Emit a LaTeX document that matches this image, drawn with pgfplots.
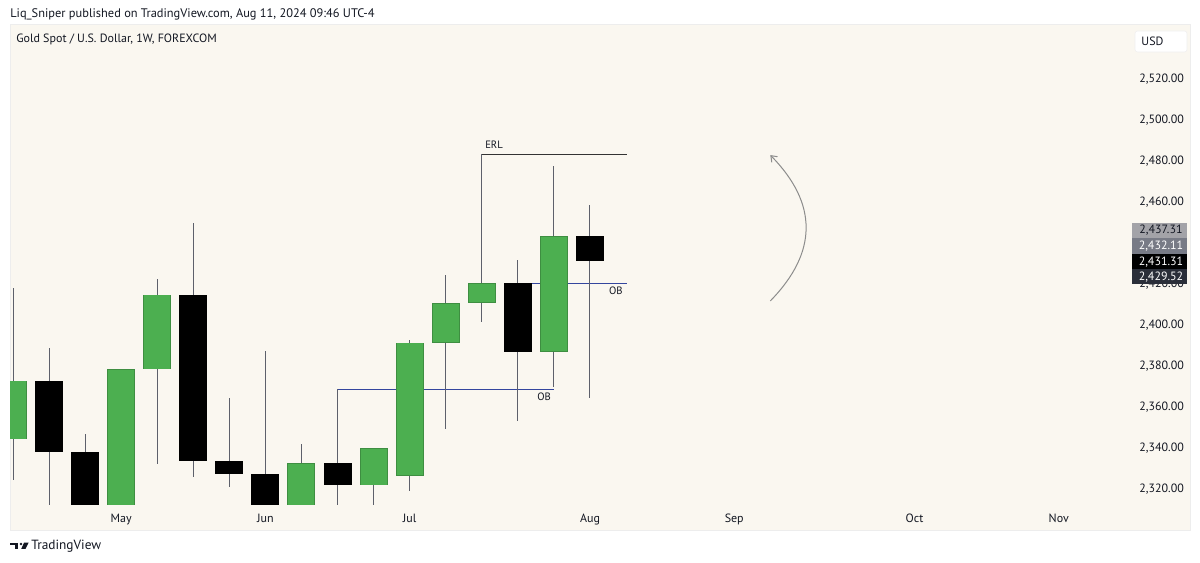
\documentclass[border=0pt]{standalone}
\usepackage{fontspec}
\setmainfont{PT Sans}
\usepackage{pgfplots}
\usepackage{pgfplotstable}
\pgfplotsset{compat=1.18}
\usetikzlibrary{arrows.meta}

\definecolor{pane}{HTML}{FAF7F0}
\definecolor{tvgreen}{HTML}{4CAF50}
\definecolor{tvgreenedge}{HTML}{3E8E41}
\definecolor{wick}{HTML}{5D606B}
\definecolor{obblue}{HTML}{34469E}
\definecolor{txt}{HTML}{131722}
\definecolor{lbl1}{HTML}{A3A3A8}
\definecolor{lbl2}{HTML}{787B86}
\definecolor{lbl4}{HTML}{2A2E39}
\newcommand\tvf{\fontsize{9}{11}\selectfont}

% weekly candles, x = bar index (Apr 15 week = 1)
\pgfplotstableread{
x  o      h      l      c
1  2344.3 2418.0 2324.4 2372.9
4  2300.0 2378.4 2280.0 2378.4
5  2378.4 2422.7 2332.4 2414.9
9  2300.0 2341.8 2287.0 2332.8
11 2321.8 2339.9 2305.0 2339.9
12 2326.5 2392.7 2318.9 2391.4
13 2391.4 2424.3 2349.4 2410.9
14 2410.9 2483.4 2401.4 2420.4
16 2387.0 2477.7 2369.6 2443.5
}\upbars

\pgfplotstableread{
x  o      h      l      c
2  2372.9 2388.7 2291.0 2338.1
3  2338.2 2346.7 2277.0 2301.0
6  2414.9 2450.0 2325.7 2333.8
7  2333.8 2364.3 2320.8 2327.3
8  2327.5 2387.5 2286.0 2293.0
10 2332.8 2368.8 2295.0 2321.8
15 2420.4 2431.8 2353.3 2387.0
17 2443.5 2458.8 2364.6 2431.3
}\downbars

\begin{document}
\begin{tikzpicture}
\useasboundingbox (0,0) rectangle (900pt,422.25pt);
\fill[white] (0,0) rectangle (900pt,422.25pt);

% pixel grid of the screenshot: x right, y down
\begin{scope}[x=0.75pt,y=-0.75pt,shift={(0pt,422.25pt)}]
  \filldraw[fill=pane, draw=black!7] (10,24) rectangle (1190,530);
  \node[anchor=west, inner sep=0, text=txt] at (10,14)
    {\fontsize{9.3}{11}\selectfont Liq\_Sniper published on TradingView.com, Aug 11, 2024 09:46 UTC-4};
  \node[anchor=west, inner sep=0, text=txt] at (16,39.5)
    {\tvf Gold Spot / U.S. Dollar, 1W, FOREXCOM};
  \filldraw[fill=white, draw=black!6, rounded corners=2pt] (1135,31) rectangle (1187,52);
  \node[text=txt, inner sep=0] at (1152.5,41.5) {\tvf USD};
\end{scope}

\begin{axis}[
    at={(7.5pt,43.5pt)}, anchor=south west,
    scale only axis, width=825pt, height=360pt,
    xmin=0.9168, xmax=31.42, ymin=2312.2, ymax=2546.5,
    axis line style={draw=none},
    major tick length=0pt,
    xtick={4,8,12,17,21,26,30},
    xticklabels={May,Jun,Jul,Aug,Sep,Oct,Nov},
    ytick={2320,2340,2360,2380,2400,2420,2460,2480,2500,2520},
    yticklabel pos=right,
    scaled y ticks=false,
    tick label style={font=\tvf, text=txt},
    yticklabel style={anchor=west, xshift=18.5pt,
      /pgf/number format/.cd, fixed, fixed zerofill, precision=2,
      1000 sep={,}, assume math mode=true},
    xticklabel style={yshift=-3.5pt},
]
% OB and ERL levels
\addplot[obblue, line width=0.75pt] coordinates {(10,2368.8) (16,2368.8)};
\addplot[obblue, line width=0.75pt] coordinates {(15,2420.4) (18.02,2420.4)};
\addplot[black!80, line width=0.75pt] coordinates {(14,2483.4) (18.02,2483.4)};

% wicks
\addplot[draw=none, forget plot, error bars/.cd, y dir=both, y explicit, error mark=none,
  error bar style={draw=wick, line width=0.75pt}]
  table[x=x, y expr={(\thisrow{h}+\thisrow{l})/2}, y error expr={(\thisrow{h}-\thisrow{l})/2}] {\upbars};
\addplot[draw=none, forget plot, error bars/.cd, y dir=both, y explicit, error mark=none,
  error bar style={draw=wick, line width=0.75pt}]
  table[x=x, y expr={(\thisrow{h}+\thisrow{l})/2}, y error expr={(\thisrow{h}-\thisrow{l})/2}] {\downbars};

% bodies
\addplot[draw=none, forget plot, error bars/.cd, y dir=both, y explicit, error mark=none,
  error bar style={draw=tvgreenedge, line width=21pt}]
  table[x=x, y expr={(\thisrow{o}+\thisrow{c})/2}, y error expr={abs(\thisrow{c}-\thisrow{o})/2}] {\upbars};
\addplot[draw=none, forget plot, error bars/.cd, y dir=both, y explicit, error mark=none,
  error bar style={draw=tvgreen, line width=19.5pt}]
  table[x=x, y expr={(\thisrow{o}+\thisrow{c})/2}, y error expr={abs(\thisrow{c}-\thisrow{o})/2-0.35}] {\upbars};
\addplot[draw=none, forget plot, error bars/.cd, y dir=both, y explicit, error mark=none,
  error bar style={draw=black, line width=21pt}]
  table[x=x, y expr={(\thisrow{o}+\thisrow{c})/2}, y error expr={abs(\thisrow{c}-\thisrow{o})/2}] {\downbars};

\node[font=\fontsize{8}{10}\selectfont, text=txt, inner sep=0] at (axis cs:14.34,2487.9) {ERL};
\node[font=\fontsize{8}{10}\selectfont, text=txt, inner sep=0] at (axis cs:17.72,2416.7) {OB};
\node[font=\fontsize{8}{10}\selectfont, text=txt, inner sep=0] at (axis cs:15.73,2364.9) {OB};

\draw[black!45, line width=0.75pt, -{Straight Barb[length=4pt,width=6pt]}]
  (axis cs:22,2411.8) .. controls (axis cs:23.32,2435.6) and (axis cs:23.32,2459.3) .. (axis cs:22,2483);
\end{axis}

\begin{scope}[x=0.75pt,y=-0.75pt,shift={(0pt,422.25pt)}]
  \fill[lbl1] (1132,222.7) rectangle (1187,238.3);
  \node[text=txt, inner sep=0] at (1161,230.5) {\tvf 2,437.31};
  \fill[lbl2] (1132,238.3) rectangle (1187,254);
  \node[text=white, inner sep=0] at (1161,246.2) {\tvf 2,432.11};
  \fill[black] (1132,254) rectangle (1187,269.3);
  \node[text=white, inner sep=0] at (1161,261.7) {\tvf 2,431.31};
  \fill[lbl4] (1132,269.3) rectangle (1187,284);
  \node[text=white, inner sep=0] at (1161,276.7) {\tvf 2,429.52};
  % logo
  \fill[txt] (10,542.7) rectangle (18.3,545.5);
  \fill[txt] (15,542.7) rectangle (18.3,549);
  \fill[txt] (21,544.1) circle (1.4);
  \fill[txt] (24,542.7) -- (28.6,542.7) -- (25.5,549) -- (21.2,549) -- cycle;
  \node[anchor=west, inner sep=0, text=txt] at (31,546)
    {\fontsize{10}{12}\selectfont TradingView};
\end{scope}
\end{tikzpicture}
\end{document}
